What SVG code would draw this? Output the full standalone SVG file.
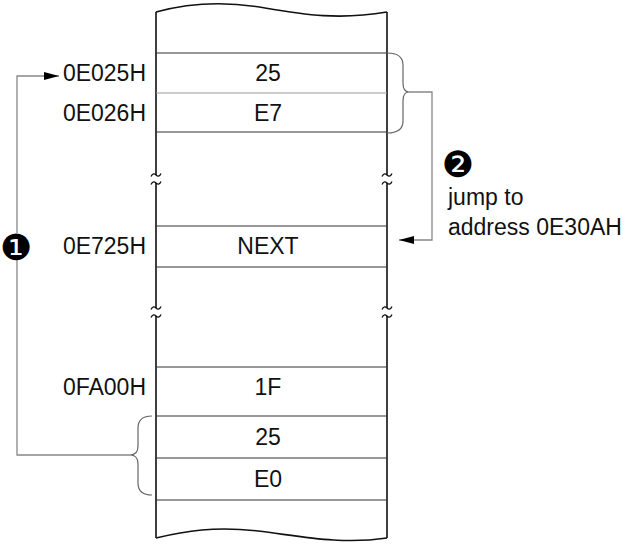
<svg xmlns="http://www.w3.org/2000/svg" xmlns:xlink="http://www.w3.org/1999/xlink" width="635" height="552" viewBox="0 0 635 552">
<style>
.wall{stroke:#111;stroke-width:1.6;fill:none}
.row{stroke:#333;stroke-width:1.1;fill:none}
.rowl{stroke:#999;stroke-width:1.1;fill:none}
.brk{stroke:#111;stroke-width:1.3;fill:none}
.con{stroke:#888;stroke-width:1.3;fill:none}
.brace{stroke:#666;stroke-width:1.2;fill:none}
text{font-family:"Liberation Sans",Arial,sans-serif;font-size:23px;fill:#111}
.val{text-anchor:middle}
.addr{text-anchor:end}
.num{font-family:"DejaVu Sans",sans-serif;font-size:36px;text-anchor:middle;fill:#000}
</style>
<defs>
<path id="tl" d="M-5,1.5 C-3.5,-2 -1.5,-1.5 0,0 S3.5,2 5,-1.5"/>
<marker id="arr" viewBox="0 0 15 8" refX="15" refY="4" markerWidth="15" markerHeight="8" markerUnits="userSpaceOnUse" orient="auto"><path d="M0,0 L15,4 L0,8 Z" fill="#000"/></marker>
</defs>
<g id="memory">
<path class="wall" d="M156,12 C185,4 220,0 265,8 C305,15 340,20 387,12"/>
<path class="wall" d="M156,538 C185,531 215,526 258,531 C300,536 340,545 387,538"/>
<path class="wall" d="M156,12 V175 M156,183 V308 M156,316 V538"/>
<path class="wall" d="M387,12 V175 M387,183 V308 M387,316 V538"/>
<g class="brk">
<use xlink:href="#tl" x="156" y="175"/><use xlink:href="#tl" x="156" y="183"/>
<use xlink:href="#tl" x="387" y="175"/><use xlink:href="#tl" x="387" y="183"/>
<use xlink:href="#tl" x="156" y="308"/><use xlink:href="#tl" x="156" y="316"/>
<use xlink:href="#tl" x="387" y="308"/><use xlink:href="#tl" x="387" y="316"/>
</g>
</g>
<g id="row-0E025H">
<path class="row" d="M156,53 H387"/>
<text class="val" x="268" y="81">25</text>
<text class="addr" x="146" y="81">0E025H</text>
</g>
<g id="row-0E026H">
<path class="rowl" d="M156,93 H387"/>
<path class="row" d="M156,132 H387"/>
<text class="val" x="268" y="121">E7</text>
<text class="addr" x="146" y="121">0E026H</text>
</g>
<g id="row-0E725H">
<path class="row" d="M156,226 H387 M156,267 H387"/>
<text class="val" x="268" y="254">NEXT</text>
<text class="addr" x="146" y="254">0E725H</text>
</g>
<g id="row-0FA00H">
<path class="row" d="M156,367 H387 M156,416 H387"/>
<text class="val" x="268" y="395">1F</text>
<text class="addr" x="146" y="395">0FA00H</text>
</g>
<g id="row-25">
<path class="row" d="M156,458 H387"/>
<text class="val" x="268" y="445">25</text>
</g>
<g id="row-E0">
<path class="row" d="M156,500 H387"/>
<text class="val" x="268" y="487">E0</text>
</g>
<g id="connectors">
<path class="brace" d="M387,53 Q403,53 403,65 L403,83 Q403,92 409,92 Q403,92 403,101 L403,121 Q403,133 387,133"/>
<path class="con" d="M409,92 H432 V240 H399" marker-end="url(#arr)"/>
<path class="brace" d="M152,416 Q138,416 138,428 L138,446 Q138,455 130,455 Q138,455 138,464 L138,483 Q138,495 152,495"/>
<path class="con" d="M130,455 H17 V257"/>
<path class="con" d="M17,233 V76 H59" marker-end="url(#arr)"/>
</g>
<g id="step-1">
<text class="num" x="16" y="260">❶</text>
</g>
<g id="step-2">
<text class="num" x="458" y="177">❷</text>
<text x="448" y="205">jump to</text>
<text x="448" y="235">address 0E30AH</text>
</g>
</svg>
